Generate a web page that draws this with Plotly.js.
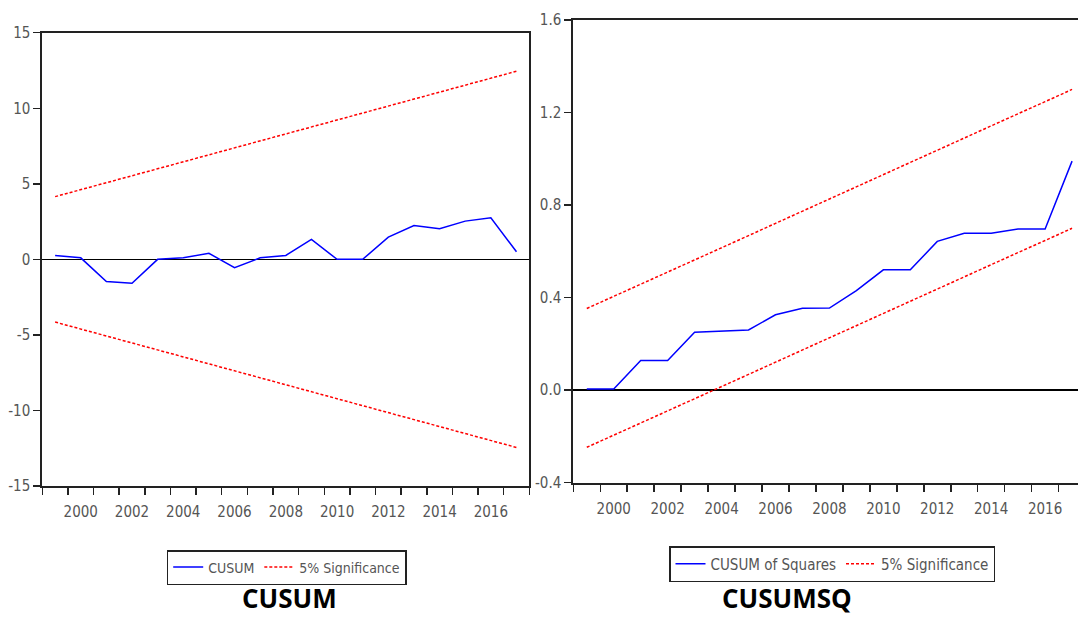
<!DOCTYPE html>
<html>
<head>
<meta charset="utf-8">
<script src="https://cdn.plot.ly/plotly-3.0.1.min.js"></script>
<style>
  html, body { margin: 0; padding: 0; background: #ffffff; }
  #chart { width: 1078px; height: 618px; }
</style>
</head>
<body>
<div id="chart"></div>
<script>
// ---- data ----
const years = [1999, 2000, 2001, 2002, 2003, 2004, 2005, 2006, 2007, 2008,
               2009, 2010, 2011, 2012, 2013, 2014, 2015, 2016, 2017];

const cusum = [0.25, 0.10, -1.47, -1.58, 0.00, 0.10, 0.40, -0.55, 0.10, 0.26,
               1.32, 0.00, 0.00, 1.47, 2.24, 2.02, 2.53, 2.75, 0.50];
const cusumUpper = [4.15, 4.61, 5.07, 5.53, 6.00, 6.46, 6.92, 7.38, 7.84, 8.30,
                    8.76, 9.22, 9.68, 10.14, 10.61, 11.07, 11.53, 11.99, 12.45];
const cusumLower = [-4.15, -4.61, -5.07, -5.53, -6.00, -6.46, -6.92, -7.38, -7.84, -8.30,
                    -8.76, -9.22, -9.68, -10.14, -10.61, -11.07, -11.53, -11.99, -12.45];

const cusumsq = [0.005, 0.005, 0.128, 0.128, 0.250, 0.255, 0.260, 0.326, 0.354, 0.355,
                 0.430, 0.520, 0.520, 0.643, 0.678, 0.678, 0.697, 0.697, 0.990];
const sqUpper = [0.353, 0.405, 0.458, 0.511, 0.563, 0.616, 0.668, 0.721, 0.774, 0.826,
                 0.879, 0.932, 0.984, 1.037, 1.090, 1.142, 1.195, 1.247, 1.300];
const sqLower = [-0.247, -0.195, -0.142, -0.089, -0.037, 0.016, 0.068, 0.121, 0.174, 0.226,
                 0.279, 0.332, 0.384, 0.437, 0.490, 0.542, 0.595, 0.647, 0.700];

const xTickVals = [2000, 2002, 2004, 2006, 2008, 2010, 2012, 2014, 2016];
const xTickText = ['2000', '2002', '2004', '2006', '2008', '2010', '2012', '2014', '2016'];
const yearBounds = [1998.5, 1999.5, 2000.5, 2001.5, 2002.5, 2003.5, 2004.5, 2005.5, 2006.5,
                    2007.5, 2008.5, 2009.5, 2010.5, 2011.5, 2012.5, 2013.5, 2014.5, 2015.5,
                    2016.5, 2017.5];
const y1TickVals = [-15, -10, -5, 0, 5, 10, 15];
const y1TickText = ['-15', '-10', '-5', '0', '5', '10', '15'];
const y2TickVals = [-0.4, 0.0, 0.4, 0.8, 1.2, 1.6];
const y2TickText = ['-0.4', '0.0', '0.4', '0.8', '1.2', '1.6'];

const panelTitles = ['CUSUM', 'CUSUMSQ'];
const seriesNames = ['CUSUM', 'CUSUM of Squares', '5% Significance'];

// ---- styling ----
const W = 1078, H = 618;
const px = v => v / W;
const py = v => (H - v) / H;
const BLUE = '#0000ff', RED = '#ff0000', FRAME = '#222222';
const FAMILY = '"Liberation Sans Narrow", "DejaVu Sans Condensed", "Arial Narrow", sans-serif';
const tickFont = {family: FAMILY, size: 15, color: '#555555'};
const redDash = '3px,2px';

const traces = [
  {x: years, y: cusum, xaxis: 'x', yaxis: 'y', type: 'scatter', mode: 'lines',
   name: seriesNames[0], line: {color: BLUE, width: 1.5}, legend: 'legend'},
  {x: years, y: cusumUpper, xaxis: 'x', yaxis: 'y', type: 'scatter', mode: 'lines',
   name: seriesNames[2], line: {color: RED, width: 1.5, dash: redDash}, legend: 'legend'},
  {x: years, y: cusumLower, xaxis: 'x', yaxis: 'y', type: 'scatter', mode: 'lines',
   name: seriesNames[2], showlegend: false, line: {color: RED, width: 1.5, dash: redDash}, legend: 'legend'},
  {x: years, y: cusumsq, xaxis: 'x2', yaxis: 'y2', type: 'scatter', mode: 'lines',
   name: seriesNames[1], line: {color: BLUE, width: 1.5}, legend: 'legend2'},
  {x: years, y: sqUpper, xaxis: 'x2', yaxis: 'y2', type: 'scatter', mode: 'lines',
   name: seriesNames[2], line: {color: RED, width: 1.5, dash: redDash}, legend: 'legend2'},
  {x: years, y: sqLower, xaxis: 'x2', yaxis: 'y2', type: 'scatter', mode: 'lines',
   name: seriesNames[2], showlegend: false, line: {color: RED, width: 1.5, dash: redDash}, legend: 'legend2'}
];

function xAxis(domain, range, anchor) {
  return {
    domain: domain, range: range, anchor: anchor, fixedrange: true,
    tickmode: 'array', tickvals: xTickVals, ticktext: xTickText,
    ticks: 'outside', ticklen: 8, tickcolor: 'rgba(0,0,0,0)', ticklabelstandoff: 3,
    tickfont: tickFont,
    minor: {tickmode: 'array', tickvals: yearBounds, ticks: 'outside', ticklen: 7,
            tickwidth: 1.5, tickcolor: FRAME, showgrid: false},
    showline: true, linecolor: FRAME, linewidth: 2, mirror: true,
    showgrid: false, zeroline: false
  };
}
function yAxis(domain, range, anchor, tv, tt, mirror) {
  return {
    domain: domain, range: range, anchor: anchor, fixedrange: true,
    tickmode: 'array', tickvals: tv, ticktext: tt,
    ticks: 'outside', ticklen: 7, tickwidth: 1.5, tickcolor: FRAME,
    tickfont: tickFont,
    showline: true, linecolor: FRAME, linewidth: 2, mirror: mirror,
    showgrid: false, zeroline: true, zerolinecolor: '#000000', zerolinewidth: 1.5
  };
}

const legendBase = {
  orientation: 'h', xanchor: 'left', yanchor: 'top',
  bgcolor: '#ffffff', bordercolor: FRAME, borderwidth: 1.5,
  itemwidth: 30, itemclick: false, itemdoubleclick: false
};

const titleFont = {family: '"Open Sans", "Noto Sans", sans-serif', size: 26, color: '#000000', weight: 'bold'};

const layout = {
  width: W, height: H,
  margin: {l: 0, r: 0, t: 0, b: 0, pad: 0},
  paper_bgcolor: '#ffffff', plot_bgcolor: '#ffffff',
  showlegend: true,
  xaxis: xAxis([px(42.3), px(529.3)], [1998.5, 2017.5], 'y'),
  yaxis: yAxis([py(486), py(32.7)], [-15, 15], 'x', y1TickVals, y1TickText, true),
  xaxis2: xAxis([px(573.3), 1], [1998.5, 2017.22], 'y2'),
  yaxis2: yAxis([py(482.7), py(20)], [-0.4, 1.6], 'x2', y2TickVals, y2TickText, false),
  legend: Object.assign({}, legendBase, {x: px(166.7), y: py(550),
    font: {family: FAMILY, size: 14, color: '#555555'}}),
  legend2: Object.assign({}, legendBase, {x: px(669), y: py(546),
    font: {family: FAMILY, size: 15, color: '#555555'}}),
  annotations: [
    {text: panelTitles[0], xref: 'paper', yref: 'paper', x: px(289), y: 0,
     xanchor: 'center', yanchor: 'bottom', showarrow: false, font: titleFont},
    {text: panelTitles[1], xref: 'paper', yref: 'paper', x: px(787), y: 0,
     xanchor: 'center', yanchor: 'bottom', showarrow: false, font: titleFont}
  ]
};

Plotly.newPlot('chart', traces, layout, {displayModeBar: false, staticPlot: true});
</script>
</body>
</html>
